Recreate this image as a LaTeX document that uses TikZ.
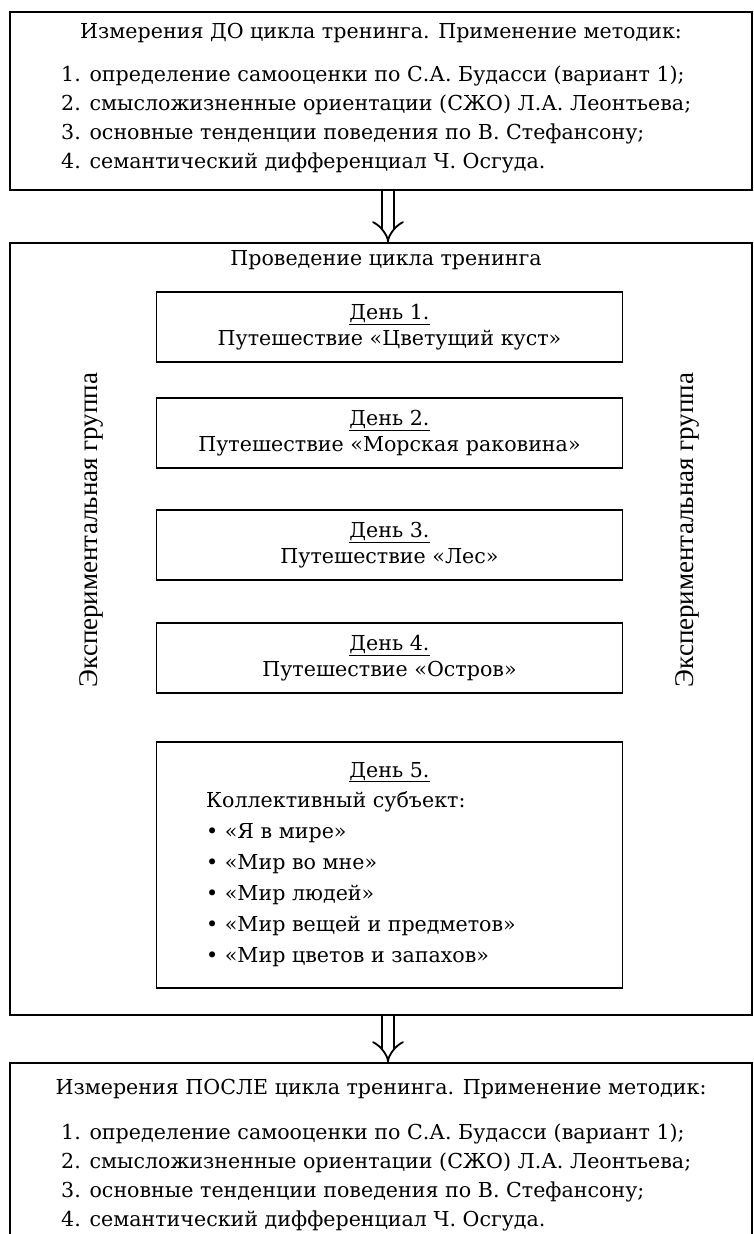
\documentclass[tikz,border=0pt]{standalone}
\usepackage{fontspec}
\setmainfont{DejaVu Serif}
\newfontfamily\sidefont{Liberation Serif}
\usetikzlibrary{positioning,arrows.meta}

\newcommand{\bodytext}{\fontsize{20.6}{29}\selectfont}
\newcommand{\daytext}{\fontsize{20.6}{26}\selectfont}
\newcommand{\bullettext}{\fontsize{20.6}{31}\selectfont}

\tikzset{
  frame/.style={draw, line width=1.5pt, inner sep=0pt},
  daybox/.style={draw, line width=1.5pt, minimum width=466pt, minimum height=70pt,
    inner sep=0pt, align=center, font=\daytext},
  plain/.style={inner sep=0pt, font=\bodytext},
  listtext/.style={inner sep=0pt, align=left, font=\bodytext},
  sidelabel/.style={inner sep=0pt, rotate=90, font=\sidefont\fontsize{27}{30}\selectfont},
  pass/.style={double, double distance=9.5pt, line width=1.8pt, -{Implies}},
}

\begin{document}
\begin{tikzpicture}[x=1pt,y=-1pt]
\useasboundingbox (0,0) rectangle (753,1234);
\clip (0,0) rectangle (753,1234);

% measurements before the cycle
\node[frame, minimum width=742pt, minimum height=178pt] (pre) at (381,101) {};
\node[plain, anchor=base] (pretitle) at (381,38)
  {Измерения ДО цикла тренинга. Применение методик:};
\node[listtext, anchor=north west] (prelist) at (61,66)
  {1. определение самооценки по С.А. Будасси (вариант 1);\\
   2. смысложизненные ориентации (СЖО) Л.А. Леонтьева;\\
   3. основные тенденции поведения по В. Стефансону;\\
   4. семантический дифференциал Ч. Осгуда.};

% the training cycle
\node[frame, minimum width=742pt, minimum height=772pt] (train) at (381,629) {};
\node[plain, anchor=base] (traintitle) at (386,265) {Проведение цикла тренинга};

\node[sidelabel] (leftgroup) at (91,530) {Экспериментальная группа};
\node[sidelabel] (rightgroup) at (687,530) {Экспериментальная группа};

\node[daybox] (day1) at (389.5,327)
  {\underline{День 1.}\\Путешествие «Цветущий куст»};
\node[daybox] (day2) at (389.5,433)
  {\underline{День 2.}\\Путешествие «Морская раковина»};
\node[daybox] (day3) at (389.5,545)
  {\underline{День 3.}\\Путешествие «Лес»};
\node[daybox] (day4) at (389.5,658)
  {\underline{День 4.}\\Путешествие «Остров»};

% day 5
\node[daybox, minimum height=246pt] (day5) at (389.5,865) {};
\node[plain, anchor=base] (day5title) at (389.5,777) {\underline{День 5.}};
\node[listtext, font=\bullettext, anchor=north west] (day5list) at (206,791)
  {Коллективный субъект:\\
   • «Я в мире»\\
   • «Мир во мне»\\
   • «Мир людей»\\
   • «Мир вещей и предметов»\\
   • «Мир цветов и запахов»};

% measurements after the cycle
\node[frame, minimum width=742pt, minimum height=260pt] (post) at (381,1193) {};
\node[plain, anchor=base] (posttitle) at (381,1094)
  {Измерения ПОСЛЕ цикла тренинга. Применение методик:};
\node[listtext, anchor=north west] (postlist) at (61,1124)
  {1. определение самооценки по С.А. Будасси (вариант 1);\\
   2. смысложизненные ориентации (СЖО) Л.А. Леонтьева;\\
   3. основные тенденции поведения по В. Стефансону;\\
   4. семантический дифференциал Ч. Осгуда.};

% arrows between the stages
\coordinate (ax) at (388,0);
\draw[pass] (pre.south -| ax) -- (train.north -| ax);
\draw[pass] (train.south -| ax) -- (post.north -| ax);

\end{tikzpicture}
\end{document}
